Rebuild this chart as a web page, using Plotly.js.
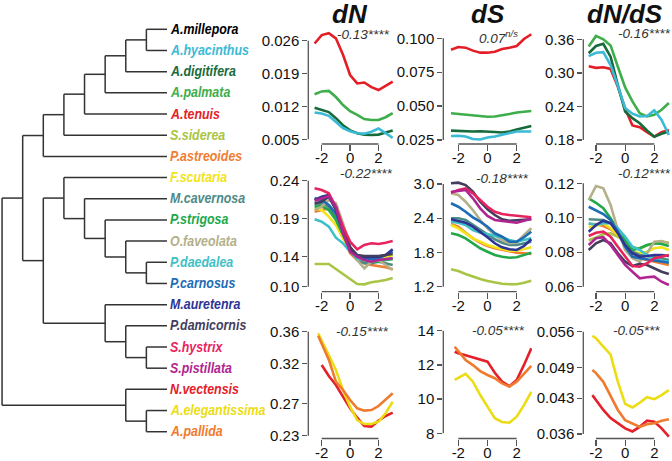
<!DOCTYPE html>
<html>
<head>
<meta charset="utf-8">
<script src="https://cdn.plot.ly/plotly-3.0.1.min.js"></script>
<style>html,body{margin:0;padding:0;background:#fff}#chart{width:672px;height:461px}</style>
</head>
<body>
<div id="chart"></div>
<script>
// species in tree order, with their label colours
const species = ['A.millepora','A.hyacinthus','A.digitifera','A.palmata','A.tenuis','S.siderea','P.astreoides',
  'F.scutaria','M.cavernosa','P.strigosa','O.faveolata','P.daedalea','P.carnosus',
  'M.auretenra','P.damicornis','S.hystrix','S.pistillata','N.vectensis','A.elegantissima','A.pallida'];
const speciesColors = ['#000000','#3bbad6','#176b3b','#3eae4b','#e41e26','#a8c545','#f07d32',
  '#f2e31a','#4d8a87','#22a84a','#b3b08a','#3ec1c6','#1d6cb5',
  '#2d3494','#433e5e','#e8245f','#b02591','#e4202a','#ecdc14','#ef7b2e'];
// cladogram (nested pairs)
const tree = [
  [
    [[[[[['A.millepora','A.hyacinthus'],'A.digitifera'],'A.palmata'],'A.tenuis'],'S.siderea'],'P.astreoides'],
    [['F.scutaria',['M.cavernosa',['P.strigosa',['O.faveolata',['P.daedalea','P.carnosus']]]]],
     ['M.auretenra',['P.damicornis',['S.hystrix','S.pistillata']]]]
  ],
  ['N.vectensis',['A.elegantissima','A.pallida']]
];

// x positions of the smoothed profiles
const xCoral = [-2.5,-2,-1.5,-1,-0.5,0,0.5,1,1.5,2,2.5,3];
const xAnemone = [-2.25,-2,-1.5,-1,-0.5,0,0.5,1,1.5,2,2.5,3];
const xTickLabels = ['-2','0','2'];

// row 1: Acropora
const acroSpecies = ['A.tenuis','A.palmata','A.digitifera','A.hyacinthus'];
const acroDN = [
  [0.0254,0.0272,0.0276,0.0265,0.0230,0.0187,0.0169,0.0171,0.0161,0.0155,0.0164,0.0173],
  [0.0146,0.0152,0.0153,0.0140,0.0123,0.0110,0.0102,0.0093,0.0091,0.0091,0.0097,0.0106],
  [0.0117,0.0113,0.0108,0.0095,0.0080,0.0069,0.0063,0.0060,0.0059,0.0060,0.0064,0.0069],
  [0.0107,0.0105,0.0100,0.0087,0.0074,0.0067,0.0063,0.0062,0.0066,0.0073,0.0063,0.0053]];
const acroDS = [
  [0.0916,0.0936,0.0931,0.0909,0.0894,0.0894,0.0901,0.0921,0.0931,0.0943,0.0995,0.1030],
  [0.0447,0.0442,0.0438,0.0434,0.0427,0.0422,0.0423,0.0431,0.0442,0.0453,0.0458,0.0464],
  [0.0319,0.0316,0.0314,0.0313,0.0314,0.0314,0.0309,0.0305,0.0313,0.0327,0.0338,0.0353],
  [0.0279,0.0281,0.0276,0.0257,0.0254,0.0268,0.0276,0.0287,0.0302,0.0313,0.0313,0.0313]];
const acroDNDS = [
  [0.312,0.309,0.310,0.307,0.275,0.236,0.206,0.203,0.194,0.186,0.194,0.198],
  [0.347,0.366,0.360,0.349,0.311,0.274,0.249,0.228,0.222,0.225,0.234,0.246],
  [0.335,0.348,0.352,0.329,0.278,0.231,0.219,0.210,0.197,0.186,0.191,0.195],
  [0.330,0.336,0.337,0.314,0.277,0.237,0.227,0.222,0.223,0.233,0.216,0.189]];

// row 2: robust corals and the rest
const robSpecies = ['S.siderea','P.astreoides','F.scutaria','M.cavernosa','P.strigosa','O.faveolata',
  'P.daedalea','P.carnosus','M.auretenra','P.damicornis','S.hystrix','S.pistillata'];
const robDN = [
  [0.130,0.130,0.130,0.1234,0.1164,0.1098,0.1036,0.1031,0.1058,0.1071,0.1088,0.1115],
  [0.1991,0.2013,0.2035,0.1903,0.1661,0.1441,0.1353,0.1309,0.1287,0.1273,0.1256,0.1230],
  [0.2035,0.2013,0.1925,0.1815,0.1639,0.1485,0.1375,0.1353,0.1353,0.1362,0.1388,0.1419],
  [0.2079,0.2102,0.2057,0.1925,0.1727,0.1507,0.1353,0.1309,0.1309,0.1330,0.1309,0.1287],
  [0.2057,0.2066,0.2013,0.1881,0.1683,0.1485,0.1388,0.1353,0.1330,0.1330,0.1353,0.1362],
  [0.2013,0.2057,0.2145,0.2102,0.1837,0.1528,0.1353,0.1243,0.1330,0.1353,0.1287,0.1221],
  [0.1890,0.1859,0.1793,0.1647,0.1573,0.1462,0.1375,0.1353,0.1362,0.1353,0.1362,0.1375],
  [0.2168,0.2145,0.2079,0.1969,0.1749,0.1520,0.1396,0.1375,0.1362,0.1375,0.1419,0.1462],
  [0.2145,0.2189,0.2211,0.2035,0.1749,0.1507,0.1396,0.1388,0.1396,0.1396,0.1419,0.1494],
  [0.2102,0.2123,0.2189,0.2013,0.1727,0.1520,0.1419,0.1405,0.1405,0.1405,0.1419,0.1432],
  [0.2300,0.2277,0.2234,0.2057,0.1793,0.1595,0.1494,0.1551,0.1573,0.1564,0.1581,0.1604],
  [0.2136,0.2167,0.2198,0.2057,0.1705,0.1462,0.1396,0.1353,0.1330,0.1353,0.1362,0.1375]];
const robDS = [
  [1.505,1.475,1.423,1.375,1.335,1.300,1.270,1.253,1.242,1.242,1.270,1.305],
  [2.299,2.252,2.146,2.048,1.971,1.913,1.873,1.843,1.813,1.796,1.785,1.773],
  [2.281,2.223,2.134,2.048,1.989,1.931,1.891,1.856,1.831,1.831,1.856,1.891],
  [2.399,2.399,2.369,2.281,2.194,2.106,2.031,1.971,1.931,1.931,1.961,1.989],
  [2.136,2.106,2.048,1.961,1.873,1.813,1.756,1.726,1.708,1.715,1.756,1.796],
  [2.837,2.807,2.690,2.544,2.369,2.223,2.106,2.018,1.961,1.971,2.106,2.223],
  [2.339,2.322,2.281,2.194,2.146,2.124,2.088,2.066,2.018,1.989,2.018,2.048],
  [2.662,2.602,2.514,2.416,2.339,2.252,2.136,2.076,1.989,1.989,2.066,2.164],
  [2.381,2.357,2.322,2.252,2.164,2.066,1.961,1.891,1.856,1.843,1.913,2.031],
  [3.012,3.023,2.982,2.865,2.690,2.556,2.456,2.381,2.357,2.369,2.369,2.381],
  [2.847,2.895,2.924,2.837,2.719,2.602,2.514,2.474,2.457,2.439,2.427,2.416],
  [2.860,2.882,2.895,2.749,2.574,2.439,2.369,2.351,2.334,2.322,2.357,2.392]];
const robDNDS = [
  [0.0870,0.0885,0.0905,0.0910,0.0890,0.0860,0.0830,0.0820,0.0840,0.0850,0.0860,0.0855],
  [0.0964,0.0964,0.0952,0.0933,0.0900,0.0852,0.0794,0.0765,0.0755,0.0745,0.0736,0.0726],
  [0.0945,0.0952,0.0968,0.0939,0.0900,0.0852,0.0803,0.0794,0.0803,0.0823,0.0829,0.0813],
  [0.0991,0.0991,0.0987,0.0968,0.0929,0.0871,0.0803,0.0784,0.0778,0.0774,0.0765,0.0755],
  [0.1113,0.1087,0.1055,0.0997,0.0929,0.0871,0.0813,0.0823,0.0842,0.0852,0.0848,0.0836],
  [0.1103,0.1184,0.1171,0.1074,0.0929,0.0813,0.0765,0.0745,0.0794,0.0861,0.0865,0.0852],
  [0.0968,0.0958,0.0968,0.0968,0.0939,0.0890,0.0832,0.0813,0.0784,0.0759,0.0751,0.0745],
  [0.1064,0.1045,0.1022,0.0987,0.0919,0.0832,0.0774,0.0765,0.0759,0.0751,0.0745,0.0739],
  [0.0919,0.0958,0.0983,0.0968,0.0910,0.0842,0.0794,0.0774,0.0778,0.0784,0.0784,0.0778],
  [0.0813,0.0852,0.0871,0.0852,0.0794,0.0745,0.0720,0.0732,0.0726,0.0707,0.0687,0.0674],
  [0.0894,0.0913,0.0919,0.0890,0.0832,0.0774,0.0720,0.0716,0.0736,0.0765,0.0774,0.0784],
  [0.0842,0.0881,0.0887,0.0842,0.0784,0.0726,0.0687,0.0649,0.0655,0.0658,0.0629,0.0610]];

// row 3: sea anemones
const aneSpecies = ['N.vectensis','A.elegantissima','A.pallida'];
const aneDN = [
  [null,0.3184,0.3046,0.2934,0.2796,0.2642,0.2525,0.2421,0.2413,0.2488,0.2546,0.2588],
  [0.358,0.3496,0.3309,0.3121,0.2871,0.2663,0.2496,0.2446,0.2446,0.2475,0.2580,0.2725],
  [0.355,0.345,0.325,0.2975,0.2871,0.2746,0.2642,0.2613,0.2621,0.2671,0.2746,0.2830]];
const aneDS = [
  [12.77,12.68,12.56,12.44,12.33,12.19,11.54,11.02,10.75,11.12,12.0,12.97],
  [11.12,11.25,11.47,11.02,10.24,9.56,8.88,8.66,8.62,8.97,9.65,10.43],
  [13.06,12.81,12.29,11.99,11.64,11.41,11.22,10.92,10.73,11.02,11.51,11.94]];
const aneDNDS = [
  [0.0436,0.0426,0.0407,0.0391,0.0381,0.0371,0.0365,0.0374,0.0386,0.0384,0.0371,0.0355],
  [0.0552,0.0547,0.0531,0.0515,0.0462,0.0419,0.0412,0.0421,0.0432,0.0428,0.0436,0.0446],
  [0.0485,0.0479,0.0462,0.0433,0.0407,0.0387,0.0381,0.0374,0.0379,0.0381,0.0386,0.0389]];

// y tick labels, bottom to top
const ticksDN1 = ['0.005','0.012','0.019','0.026'];
const ticksDS1 = ['0.025','0.050','0.075','0.100'];
const ticksDNDS1 = ['0.18','0.24','0.30','0.36'];
const ticksDN2 = ['0.10','0.14','0.19','0.24'];
const ticksDS2 = ['1.2','1.8','2.4','3.0'];
const ticksDNDS2 = ['0.06','0.08','0.10','0.12'];
const ticksDN3 = ['0.23','0.27','0.32','0.36'];
const ticksDS3 = ['8','10','12','14'];
const ticksDNDS3 = ['0.036','0.043','0.049','0.056'];

const columnTitles = ['dN','dS','dN/dS'];
const statLabels = [
  ['-0.13****','0.07<sup>n/s</sup>','-0.16****'],
  ['-0.22****','-0.18****','-0.12****'],
  ['-0.15****','-0.05****','-0.05***']];

// ---- page geometry (pixels) ----
const W = 672, H = 461;
const cols = [{axis:308.3, m2:321.7, p2:378.5, right:395},
              {axis:443.3, m2:458.3, p2:516.7, right:532},
              {axis:583.3, m2:596, p2:654.3, right:672}];
const rows = [{top:26, bottom:144}, {top:170, bottom:291.7}, {top:320, bottom:438.5}];
const tickPx = [[[40.7,139.3],[38.3,140],[39.3,140]],
                [[180.7,286.7],[184,286.7],[183.3,286.7]],
                [[331.7,435.7],[330.7,433.3],[331.7,434]]];
const statPos = [[[0.94,34],[0.72,37],[1.32,33.5]],
                 [[1.15,174],[1.03,178.5],[1.36,173.5]],
                 [[0.87,331.5],[0.75,330.5],[0.77,330.5]]];

const rowData = [
  {names: acroSpecies, x: xCoral, sets: [acroDN, acroDS, acroDNDS], ticks: [ticksDN1, ticksDS1, ticksDNDS1]},
  {names: robSpecies, x: xCoral, sets: [robDN, robDS, robDNDS], ticks: [ticksDN2, ticksDS2, ticksDNDS2]},
  {names: aneSpecies, x: xAnemone, sets: [aneDN, aneDS, aneDNDS], ticks: [ticksDN3, ticksDS3, ticksDNDS3]}];

const axisGrey = '#555';
const fontMain = 'Liberation Sans, Arial, sans-serif';
const traces = [], shapes = [], annotations = [];
const layout = {
  width: W, height: H, margin: {l:0, r:0, t:0, b:0},
  paper_bgcolor: '#fff', plot_bgcolor: 'rgba(0,0,0,0)', showlegend: false,
  font: {family: fontMain, color: '#111'}
};

const colorOf = name => speciesColors[species.indexOf(name)];

rowData.forEach((row, r) => {
  cols.forEach((col, c) => {
    const k = r * 3 + c + 1;
    const xid = k === 1 ? 'x' : 'x' + k, yid = k === 1 ? 'y' : 'y' + k;
    // x range from tick pixel positions
    const sx = (col.p2 - col.m2) / 4;
    const xr = [-2 - (col.m2 - col.axis) / sx, 2 + (col.right - col.p2) / sx];
    // y range from tick pixel positions
    const labels = row.ticks[c];
    const vLo = parseFloat(labels[0]), vHi = parseFloat(labels[labels.length - 1]);
    const [pHi, pLo] = tickPx[r][c];
    const sy = (pLo - pHi) / (vHi - vLo);
    const yr = [vLo - (rows[r].bottom - pLo) / sy, vHi + (pHi - rows[r].top) / sy];

    layout[k === 1 ? 'xaxis' : 'xaxis' + k] = {
      domain: [col.axis / W, col.right / W], range: xr, anchor: yid,
      tickmode: 'array', tickvals: xTickLabels.map(Number), ticktext: xTickLabels,
      ticks: 'outside', ticklen: 6, tickwidth: 1.3, tickcolor: axisGrey, ticklabelstandoff: -6,
      tickfont: {size: 15, color: '#111'}, showline: false, showgrid: false, zeroline: false,
      fixedrange: true
    };
    layout[k === 1 ? 'yaxis' : 'yaxis' + k] = {
      domain: [1 - rows[r].bottom / H, 1 - rows[r].top / H], range: yr, anchor: xid,
      tickmode: 'array', tickvals: labels.map(Number), ticktext: labels,
      ticks: 'outside', ticklen: 5, tickwidth: 1.3, tickcolor: axisGrey,
      tickfont: {size: 15, color: '#111'}, showline: false, showgrid: false, zeroline: false,
      fixedrange: true
    };
    // R-style axis bars that stop at the outer ticks
    shapes.push({type: 'line', xref: xid + ' domain', yref: yid, x0: 0, x1: 0, y0: vLo, y1: vHi,
      line: {color: axisGrey, width: 1.3}});
    shapes.push({type: 'line', xref: xid, yref: yid + ' domain', x0: -2, x1: 2, y0: 0, y1: 0,
      line: {color: axisGrey, width: 1.3}});

    row.sets[c].forEach((vals, i) => {
      traces.push({x: row.x, y: vals, xaxis: xid, yaxis: yid, type: 'scatter', mode: 'lines',
        line: {color: colorOf(row.names[i]), width: 2.6}, hoverinfo: 'skip', connectgaps: false});
    });

    annotations.push({xref: xid, yref: 'paper', x: statPos[r][c][0], y: 1 - statPos[r][c][1] / H,
      text: statLabels[r][c], showarrow: false, xanchor: 'center', yanchor: 'middle',
      font: {size: 13.5, color: '#333', style: 'italic'}});
    if (r === 0) {
      annotations.push({xref: xid, yref: 'paper', x: 0, y: 1 - 14 / H,
        text: columnTitles[c], showarrow: false, xanchor: 'center', yanchor: 'middle',
        font: {size: 26, color: '#111', weight: 'bold', style: 'italic'}});
    }
  });
});

// ---- cladogram ----
const leafY0 = 29.3, leafStep = 21.18;
const nodes = [];
function place(node) {
  if (typeof node === 'string') return {y: species.indexOf(node), h: 0, leaf: node};
  const kids = node.map(place);
  const n = {kids, h: Math.max(...kids.map(k => k.h)) + 1, y: (kids[0].y + kids[kids.length - 1].y) / 2};
  nodes.push(n);
  return n;
}
const root = place(tree);
const depth = root.h;
const tx = [], ty = [];
nodes.forEach(n => {
  const xn = depth - n.h;
  tx.push(xn, xn, null); ty.push(n.kids[0].y, n.kids[n.kids.length - 1].y, null);
  n.kids.forEach(k => { tx.push(xn, depth - k.h, null); ty.push(k.y, k.y, null); });
});
traces.push({x: tx, y: ty, xaxis: 'x10', yaxis: 'y10', type: 'scatter', mode: 'lines',
  line: {color: '#333', width: 1.5}, hoverinfo: 'skip', cliponaxis: false});
layout.xaxis10 = {domain: [0, 167 / W], range: [-0.1, depth], visible: false, fixedrange: true};
layout.yaxis10 = {domain: [1 - 440 / H, 1 - 20 / H], anchor: 'x10', visible: false, fixedrange: true,
  range: [(440 - leafY0) / leafStep, (20 - leafY0) / leafStep]};
species.forEach((name, i) => {
  annotations.push({xref: 'x10', yref: 'y10', x: depth, y: i, xanchor: 'left', yanchor: 'middle',
    align: 'left', xshift: 1, yshift: 1, showarrow: false, text: name,
    font: {size: 15.5, color: speciesColors[i], weight: 'bold', style: 'italic'}});
});

layout.shapes = shapes;
layout.annotations = annotations;
Plotly.newPlot('chart', traces, layout, {displayModeBar: false, staticPlot: true}).then(gd => {
  // the original labels use a narrow typeface: squeeze the species names horizontally
  gd.querySelectorAll('.annotation-text').forEach(t => {
    if (species.indexOf(t.textContent) < 0) return;
    const w = t.getComputedTextLength();
    t.setAttribute('text-anchor', 'start');
    t.setAttribute('textLength', (w * 0.8).toFixed(1));
    t.setAttribute('lengthAdjust', 'spacingAndGlyphs');
  });
});
</script>
</body>
</html>
